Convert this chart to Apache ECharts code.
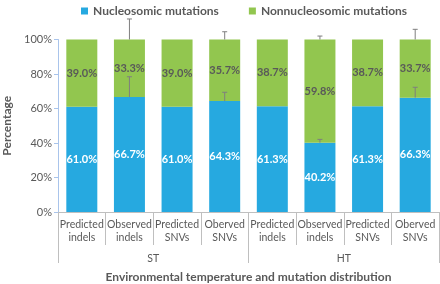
<!DOCTYPE html>
<html>
<head>
<meta charset="utf-8">
<script src="https://cdn.jsdelivr.net/npm/echarts@6/dist/echarts.min.js"></script>
<style>
  html, body { margin: 0; padding: 0; background: #fff; }
  #chart { width: 440px; height: 284px; }
</style>
</head>
<body>
<div id="chart"></div>
<script>
var categories = ['Predicted\nindels', 'Observed\nindels', 'Predicted\nSNVs', 'Oberved\nSNVs',
  'Predicted\nindels', 'Observed\nindels', 'Predicted\nSNVs', 'Oberved\nSNVs']
var groups = ['ST', 'HT']
var nucleosomic = [61.0, 66.7, 61.0, 64.3, 61.3, 40.2, 61.3, 66.3]
var nonnucleosomic = [39.0, 33.3, 39.0, 35.7, 38.7, 59.8, 38.7, 33.7]
// upper error bars (percentage points), null where there is none
var nucleosomicErr = [null, 11.7, null, 5.1, null, 1.9, null, 6.0]
var nonnucleosomicErr = [null, 11.9, null, 4.5, null, 2.0, null, 5.9]

var grey = '#595959'
var font = 'Lato'

function errData(base, err) {
  var out = []
  for (var i = 0; i < err.length; i++) {
    if (err[i] != null) out.push([i, base[i], err[i]])
  }
  return out
}

var tops = nucleosomic.map(function(v, i) { return v + nonnucleosomic[i] })

function renderErr(params, api) {
  var i = api.value(0)
  var lo = api.coord([i, api.value(1)])
  var hi = api.coord([i, api.value(1) + api.value(2)])
  var style = { stroke: '#7f7f7f', lineWidth: 1 }
  return {
    type: 'group',
    children: [
      { type: 'line', shape: { x1: lo[0], y1: lo[1], x2: hi[0], y2: hi[1] }, style: style },
      { type: 'line', shape: { x1: hi[0] - 2.5, y1: hi[1], x2: hi[0] + 2.5, y2: hi[1] }, style: style }
    ]
  }
}

var chart = echarts.init(document.getElementById('chart'))
chart.setOption({
  animation: false,
  textStyle: { fontFamily: font },
  legend: {
    top: 0,
    left: 76,
    itemWidth: 7,
    itemHeight: 7,
    itemGap: 30,
    icon: 'rect',
    textStyle: { fontSize: 12, fontWeight: 'bold', color: grey, fontFamily: font }
  },
  grid: { left: 58, right: 1, top: 39.5, bottom: 72, outerBoundsMode: 'none', containLabel: false },
  xAxis: [{
    type: 'category',
    data: categories,
    axisLine: { show: true, lineStyle: { color: '#bfbfbf' } },
    axisTick: { show: true, interval: 0, length: 33, lineStyle: { color: '#bfbfbf' } },
    axisLabel: { color: grey, fontSize: 10.5, lineHeight: 13, margin: 6, interval: 0 }
  }, {
    type: 'category',
    data: groups,
    position: 'bottom',
    axisLine: { show: false },
    axisTick: { show: true, interval: 0, length: 51, lineStyle: { color: '#bfbfbf' } },
    axisLabel: { color: grey, fontSize: 10.5, margin: 41, interval: 0 },
    name: 'Environmental temperature and mutation distribution',
    nameLocation: 'middle',
    nameGap: 59,
    nameTextStyle: { color: grey, fontSize: 12, fontWeight: 'bold' }
  }],
  yAxis: {
    type: 'value',
    min: 0,
    max: 100,
    interval: 20,
    name: 'Percentage',
    nameLocation: 'middle',
    nameGap: 43,
    nameTextStyle: { color: grey, fontSize: 12, fontWeight: 'bold' },
    axisLine: { show: true, lineStyle: { color: '#a9c4eb' } },
    axisTick: { show: true, length: 4, lineStyle: { color: '#a9c4eb' } },
    axisLabel: { color: grey, fontSize: 11, margin: 6, formatter: '{value}%' },
    splitLine: { show: false }
  },
  series: [{
    name: 'Nucleosomic mutations',
    type: 'bar',
    stack: 'all',
    barWidth: 31,
    data: nucleosomic,
    itemStyle: { color: '#26a9e0' },
    label: {
      show: true, position: 'inside', color: '#fff', fontSize: 11, fontWeight: 'bold',
      formatter: function(p) { return p.value.toFixed(1) + '%' }
    }
  }, {
    name: 'Nonnucleosomic mutations',
    type: 'bar',
    stack: 'all',
    barWidth: 31,
    data: nonnucleosomic,
    itemStyle: { color: '#92c64f' },
    label: {
      show: true, position: 'inside', color: grey, fontSize: 11, fontWeight: 'bold',
      formatter: function(p) { return p.value.toFixed(1) + '%' }
    }
  }, {
    type: 'custom',
    clip: false,
    z: 5,
    renderItem: renderErr,
    data: errData(nucleosomic, nucleosomicErr)
  }, {
    type: 'custom',
    clip: false,
    z: 5,
    renderItem: renderErr,
    data: errData(tops, nonnucleosomicErr)
  }]
})
</script>
</body>
</html>
